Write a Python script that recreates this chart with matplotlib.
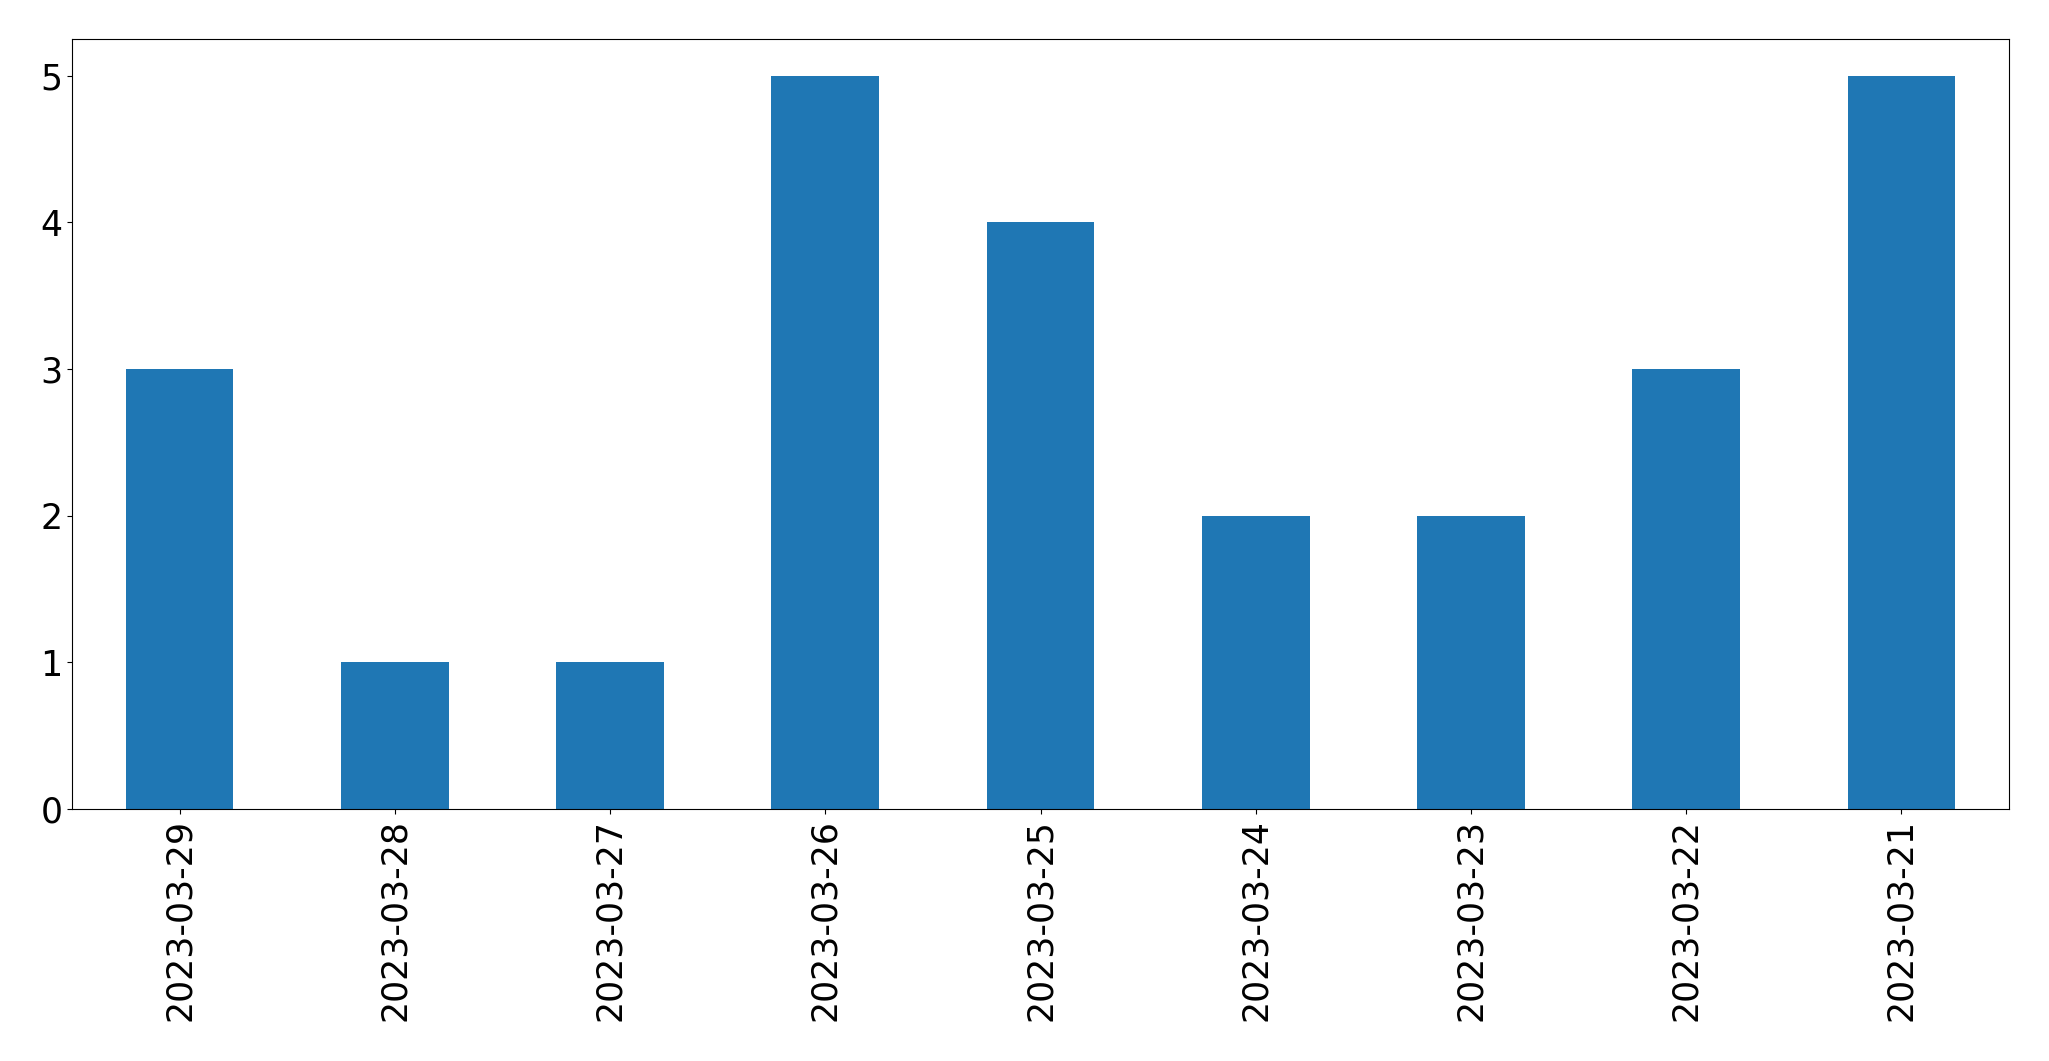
import matplotlib
matplotlib.use("Agg")
import matplotlib.pyplot as plt
import pandas as pd

DATES = ["2023-03-29", "2023-03-28", "2023-03-27", "2023-03-26", "2023-03-25",
         "2023-03-24", "2023-03-23", "2023-03-22", "2023-03-21"]
COUNTS = [3, 1, 1, 5, 4, 2, 2, 3, 5]

FONT_SIZE = 25


def main() -> None:
    series = pd.Series(COUNTS, index=DATES)
    fig = plt.figure(figsize=(20.49, 10.61), dpi=100)
    ax = fig.add_axes([72 / 2049, 1 - 809 / 1061, (2009 - 72) / 2049, (809 - 39) / 1061])
    series.plot(kind="bar", ax=ax, color="#1f77b4")
    ax.tick_params(axis="both", labelsize=FONT_SIZE)
    ax.set_yticks(range(0, 6))
    fig.savefig("out.png", dpi=100)
    plt.close(fig)


if __name__ == "__main__":
    main()
